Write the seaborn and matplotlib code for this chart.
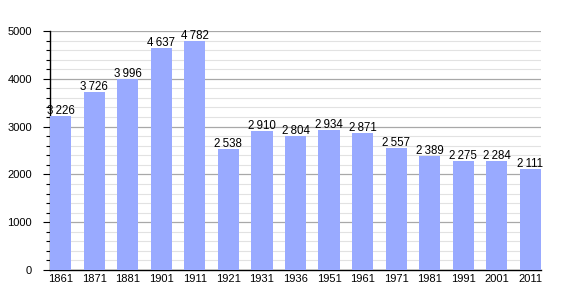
import matplotlib
matplotlib.use("Agg")
import matplotlib.pyplot as plt
import seaborn as sns
import pandas as pd
from matplotlib.ticker import MultipleLocator

years = ["1861", "1871", "1881", "1901", "1911", "1921", "1931", "1936",
         "1951", "1961", "1971", "1981", "1991", "2001", "2011"]
population = [3226, 3726, 3996, 4637, 4782, 2538, 2910, 2804,
              2934, 2871, 2557, 2389, 2275, 2284, 2111]
labels = ["{:,}".format(v).replace(",", "\u2009") for v in population]

df = pd.DataFrame({"year": years, "population": population})

sns.set_style("white")
plt.rcParams['font.family'] = ['Liberation Sans', 'DejaVu Sans']
plt.rcParams['text.color'] = 'black'
plt.rcParams['xtick.color'] = 'black'
plt.rcParams['ytick.color'] = 'black'

fig = plt.figure(figsize=(5.7, 3.0), dpi=100)
ax = fig.add_axes([50/570, 30/300, 491/570, 239/300])

sns.barplot(data=df, x="year", y="population", color="#99aaff",
            saturation=1, width=0.63, ax=ax, zorder=3, linewidth=0)

ax.set_xlim(-0.315, len(years) - 1 + 0.315)
ax.set_ylim(0, 5000)
ax.yaxis.set_major_locator(MultipleLocator(1000))
ax.yaxis.set_minor_locator(MultipleLocator(200))
ax.grid(which="major", axis="y", color="#a8a8a8", linewidth=0.9, zorder=0)
ax.grid(which="minor", axis="y", color="#e2e2e2", linewidth=0.8, zorder=0)
ax.set_axisbelow(True)

for s in ["top", "right"]:
    ax.spines[s].set_visible(False)
for s in ["left", "bottom"]:
    ax.spines[s].set_color("black")
    ax.spines[s].set_linewidth(1.0)

ax.tick_params(axis="y", which="major", length=5, width=0.8, color="black",
               labelsize=8, left=True, pad=8, labelcolor="black")
ax.tick_params(axis="y", which="minor", length=3, width=0.8, color="black", left=True)
ax.tick_params(axis="x", length=0, labelsize=8, pad=3, labelcolor="black")
ax.set_xlabel("")
ax.set_ylabel("")

for i, (v, lab) in enumerate(zip(population, labels)):
    ax.text(i, v - 20, lab, ha="center", va="bottom", fontsize=8.3,
            color="black", zorder=5)

fig.savefig("out.png", dpi=100)
